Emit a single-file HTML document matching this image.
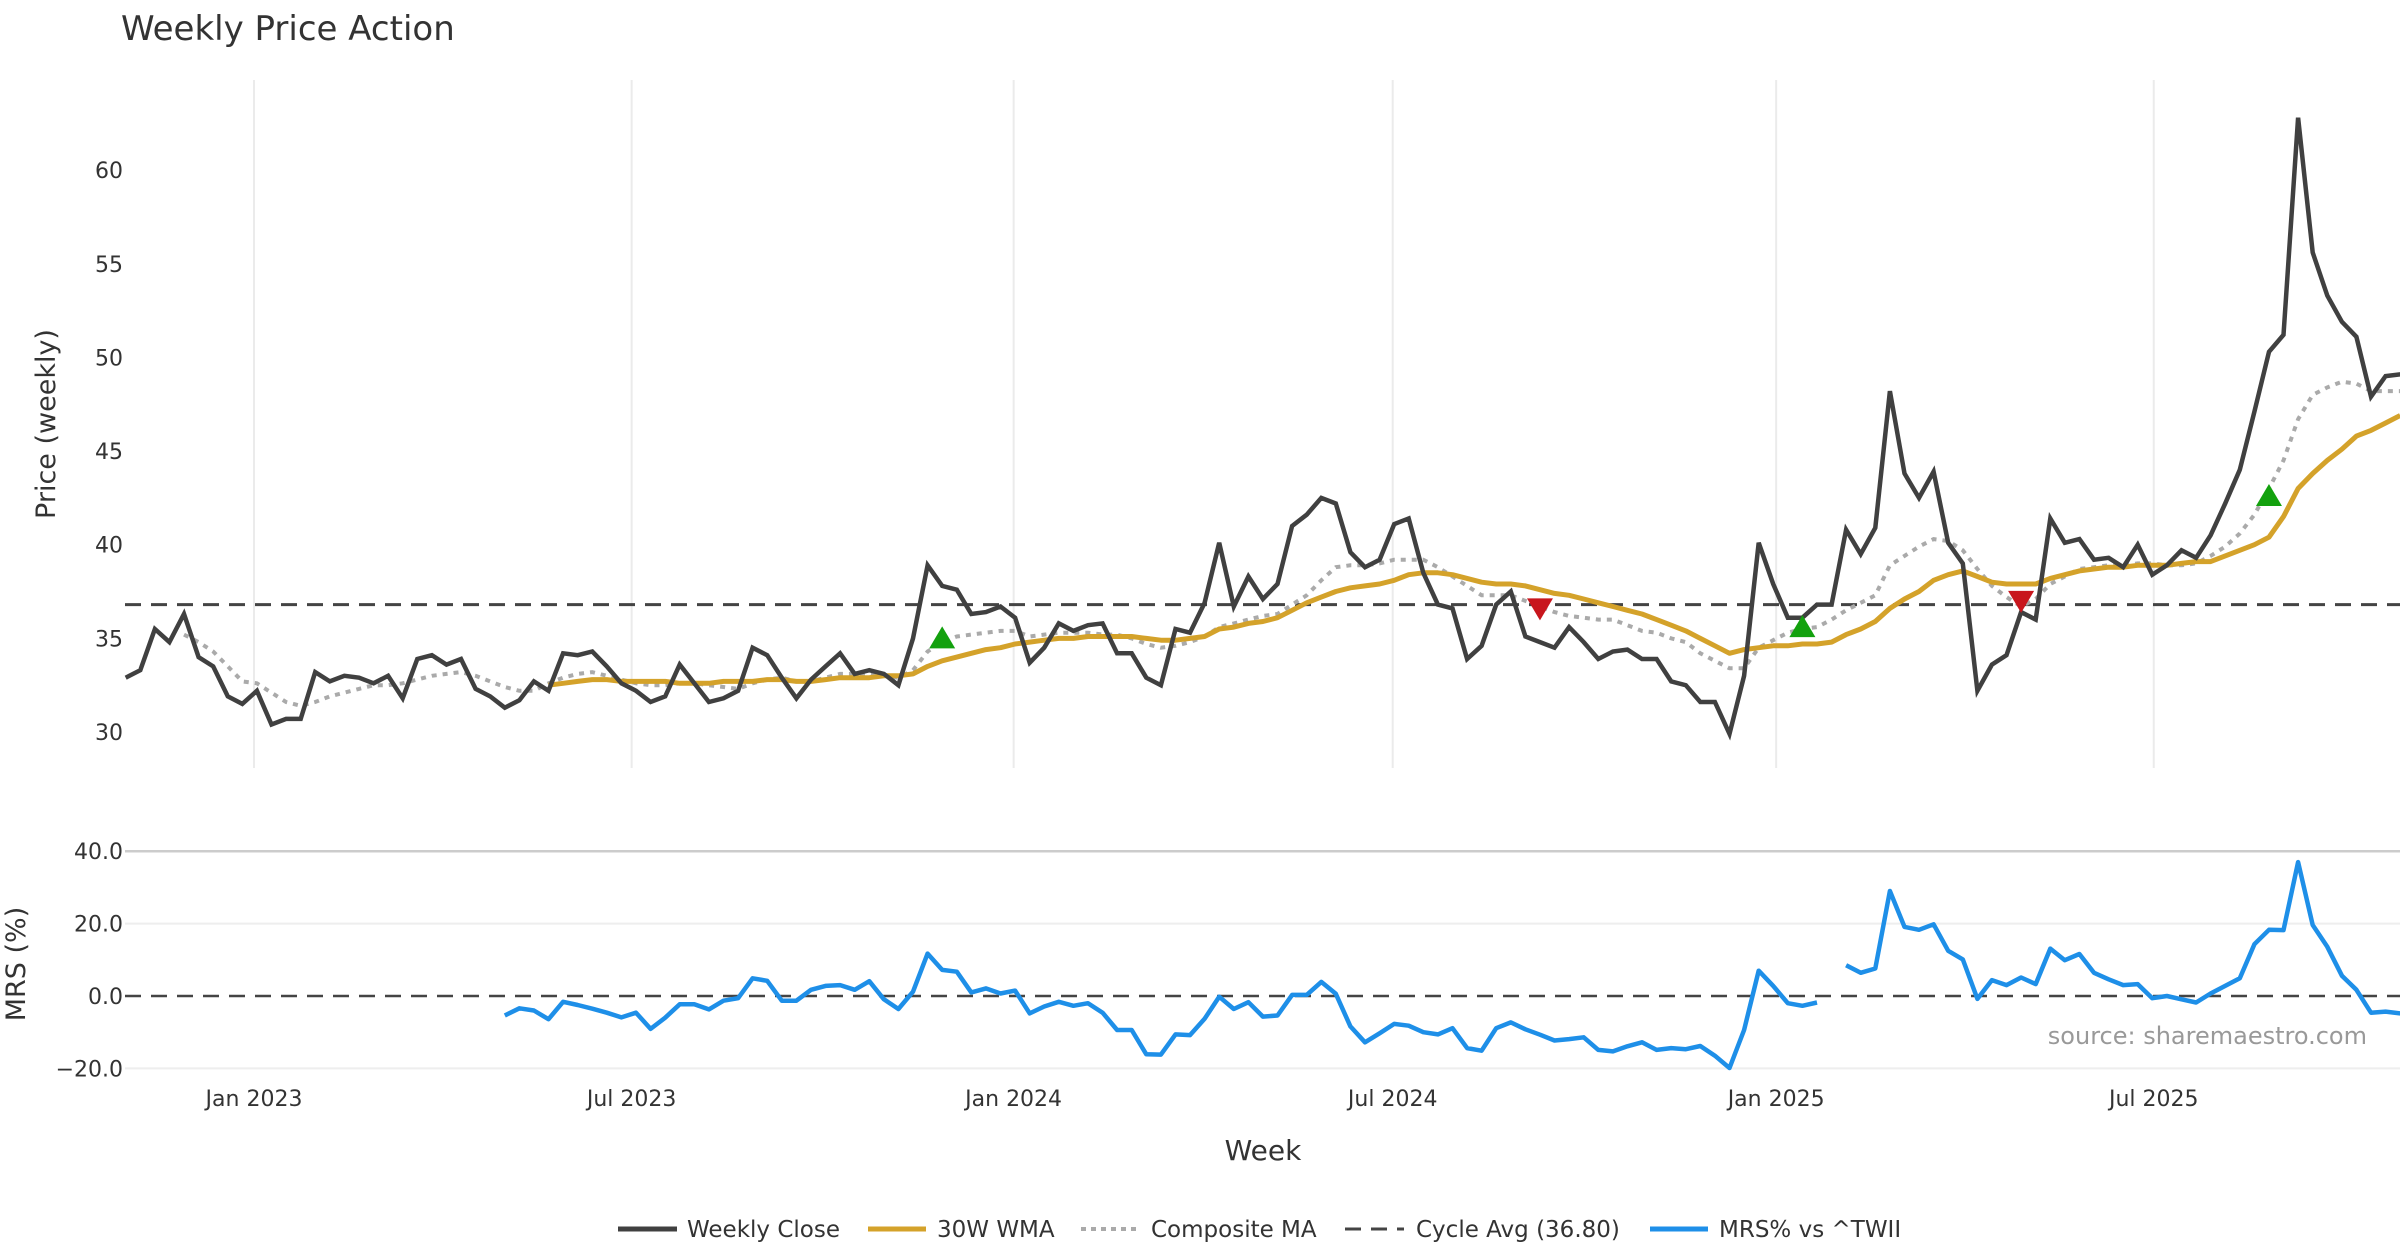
<!DOCTYPE html>
<html><head><meta charset="utf-8"><style>
html,body{margin:0;padding:0;background:#fff;}
svg{display:block;font-family:"DejaVu Sans","Liberation Sans",sans-serif;}
</style></head><body>
<svg id="chart" width="2400" height="1260" viewBox="0 0 2400 1260" xmlns="http://www.w3.org/2000/svg">
<rect width="2400" height="1260" fill="#fff"/>
<text x="121" y="40" font-size="34" fill="#333">Weekly Price Action</text>
<g id="grid"></g>
<g id="price"></g>
<g id="mrs"></g>
<g id="axes"></g>
<text transform="translate(55,424) rotate(-90)" text-anchor="middle" font-size="27" fill="#333">Price (weekly)</text>
<text transform="translate(25,964) rotate(-90)" text-anchor="middle" font-size="27" fill="#333">MRS (%)</text>
<text x="1263" y="1160" text-anchor="middle" font-size="28" fill="#333">Week</text>
<text x="2367" y="1044" text-anchor="end" font-size="24" fill="#999">source: sharemaestro.com</text>
<g font-size="23" fill="#333">
<g><line x1="618" y1="1229" x2="677" y2="1229" stroke="#404040" stroke-width="5"/><text x="687" y="1237">Weekly Close</text></g>
<g><line x1="868" y1="1229" x2="926" y2="1229" stroke="#D4A22A" stroke-width="5"/><text x="937" y="1237">30W WMA</text></g>
<g><line x1="1081" y1="1229" x2="1139" y2="1229" stroke="#aaa" stroke-width="4" stroke-dasharray="5,5"/><text x="1151" y="1237">Composite MA</text></g>
<g><line x1="1345" y1="1229" x2="1404" y2="1229" stroke="#444" stroke-width="3" stroke-dasharray="16,10"/><text x="1416" y="1237">Cycle Avg (36.80)</text></g>
<g><line x1="1650" y1="1229" x2="1708" y2="1229" stroke="#1E8FE8" stroke-width="5"/><text x="1719" y="1237">MRS% vs ^TWII</text></g>
</g>
</svg>
<script>
const closeVals=[32.9,33.3,35.5,34.8,36.3,34.0,33.5,31.9,31.5,32.2,30.4,30.7,30.7,33.2,32.7,33.0,32.9,32.6,33.0,31.8,33.9,34.1,33.6,33.9,32.3,31.9,31.3,31.7,32.7,32.2,34.2,34.1,34.3,33.5,32.6,32.2,31.6,31.9,33.6,32.6,31.6,31.8,32.2,34.5,34.1,32.9,31.8,32.8,33.5,34.2,33.1,33.3,33.1,32.5,
35.0,38.9,37.8,37.6,36.3,36.4,36.7,36.1,33.7,34.5,35.8,35.4,35.7,35.8,34.2,34.2,32.9,32.5,35.5,35.3,36.9,40.1,36.7,38.3,37.1,37.9,41.0,41.6,42.5,42.2,39.6,38.8,39.2,41.1,41.4,38.5,36.8,36.6,33.9,34.6,36.8,37.5,35.1,34.8,34.5,35.6,34.8,33.9,34.3,34.4,33.9,33.9,32.7,32.5,
31.6,31.6,29.9,33.0,40.1,37.9,36.1,36.1,36.8,36.8,40.8,39.5,40.9,48.2,43.8,42.5,43.9,40.1,39.0,32.2,33.6,34.1,36.4,36.0,41.4,40.1,40.3,39.2,39.3,38.8,40.0,38.4,38.9,39.7,39.3,40.5,42.2,44.0,47.1,50.3,51.2,62.8,55.6,53.3,51.9,51.1,47.9,49.0,49.1];
const wmaVals=[null,null,null,null,null,null,null,null,null,null,null,null,null,null,null,null,null,null,null,null,null,null,null,null,null,null,null,null,null,
32.5,32.6,32.7,32.8,32.8,32.7,32.7,32.7,32.7,32.6,32.6,32.6,32.7,32.7,32.7,32.8,32.8,32.7,32.7,32.8,32.9,32.9,32.9,33.0,33.0,33.1,33.5,33.8,34.0,34.2,34.4,34.5,34.7,34.8,34.9,35.0,35.0,35.1,35.1,35.1,35.1,35.0,34.9,34.9,35.0,35.1,35.5,35.6,35.8,35.9,36.1,36.5,36.9,37.2,37.5,37.7,37.8,37.9,38.1,38.4,38.5,38.5,38.4,38.2,38.0,37.9,37.9,37.8,37.6,37.4,37.3,37.1,36.9,36.7,36.5,36.3,36.0,35.7,35.4,35.0,34.6,34.2,34.4,34.5,34.6,34.6,34.7,34.7,34.8,35.2,35.5,35.9,36.6,37.1,37.5,38.1,38.4,38.6,38.3,38.0,37.9,37.9,37.9,38.2,38.4,38.6,38.7,38.8,38.8,38.9,38.9,38.9,39.0,39.1,39.1,39.4,39.7,40.0,40.4,41.5,43.0,43.8,44.5,45.1,45.8,46.1,46.5,46.9];
const compVals=[null,null,null,null,35.2,34.8,34.3,33.5,32.7,32.6,32.1,31.6,31.4,31.6,31.9,32.1,32.3,32.5,32.5,32.6,32.8,33.0,33.1,33.2,33.0,32.7,32.4,32.2,32.2,32.6,32.9,33.1,33.2,33.0,32.8,32.6,32.5,32.5,32.6,32.6,32.5,32.4,32.3,32.6,32.8,32.9,32.7,32.7,32.9,33.1,33.1,33.1,33.0,32.9,
33.3,34.3,34.8,35.1,35.2,35.3,35.4,35.4,35.1,35.2,35.3,35.3,35.3,35.2,35.2,35.0,34.7,34.5,34.6,34.8,35.1,35.6,35.8,36.0,36.2,36.3,36.8,37.3,38.1,38.8,38.9,38.9,39.0,39.2,39.2,39.2,38.8,38.3,37.8,37.3,37.3,37.3,37.0,36.7,36.4,36.2,36.1,36.0,36.0,35.7,35.4,35.3,35.0,34.8,
34.2,33.8,33.4,33.4,34.5,34.9,35.3,35.5,35.6,36.0,36.5,36.9,37.3,38.9,39.4,39.9,40.3,40.2,39.7,38.7,37.8,37.2,36.7,37.1,37.9,38.3,38.7,38.8,38.9,38.9,39.0,39.0,38.9,38.9,39.0,39.4,39.9,40.6,41.6,43.0,44.5,46.7,48.0,48.4,48.7,48.6,48.2,48.2,48.2];
const mrsVals=[null,null,null,null,null,null,null,null,null,null,null,null,null,null,null,null,null,null,null,null,null,null,null,null,null,null,
-5.4,-3.4,-4.0,-6.4,-1.6,-2.5,-3.5,-4.6,-5.9,-4.6,-9.1,-6.0,-2.3,-2.3,-3.7,-1.3,-0.6,4.9,4.2,-1.3,-1.3,1.7,2.8,3.0,1.7,4.1,-0.9,-3.6,1.2,11.7,7.2,6.7,1.0,2.1,0.7,1.5,-4.8,-2.9,-1.6,-2.7,-2.0,-4.6,-9.4,-9.4,-16.1,-16.2,-10.6,-10.8,-6.3,-0.2,-3.6,-1.7,-5.7,-5.4,0.3,0.3,3.9,0.6,-8.4,-12.8,-10.3,-7.7,-8.2,-10.0,-10.6,
-8.9,-14.4,-15.1,-8.9,-7.3,-9.2,-10.7,-12.3,-11.9,-11.4,-14.9,-15.3,-13.9,-12.8,-14.9,-14.4,-14.7,-13.8,-16.5,-19.9,-9.4,7.0,2.8,-2.0,-2.7,-1.8,null,8.5,6.4,7.6,29.0,19.1,18.3,19.8,12.5,10.1,-0.8,4.4,3.0,5.1,3.3,13.1,9.9,11.6,6.4,4.6,3.0,3.3,-0.6,0.0,-0.9,-1.8,0.7,2.8,4.9,14.3,18.3,18.2,37.0,19.6,13.6,5.6,1.7,-4.6,-4.3,-4.8];
const buyIdx=[56,115,147];
const buyVals=[35.0,35.6,42.6];
const sellIdx=[97,130];
const sellVals=[36.6,37.0];
const cycleAvg=36.8;
const priceTicks=[30,35,40,45,50,55,60];
const mrsTicks=[40,20,0,-20];
const mrsTickLabels=["40.0","20.0","0.0","\u221220.0"];
const dateTickIdx=[8.8,34.7,60.9,86.9,113.2,139.1];
const dateTickLabels=["Jan 2023","Jul 2023","Jan 2024","Jul 2024","Jan 2025","Jul 2025"];

const NS="http://www.w3.org/2000/svg";
const X0=125.7, XW=14.58, L=125, R=2400;
const xs=i=>X0+XW*i;
const yp=v=>732-(v-30)*18.73;
const ym=v=>996-3.62*v;
function mk(tag,attrs,parent){const e=document.createElementNS(NS,tag);for(const k in attrs)e.setAttribute(k,attrs[k]);parent.appendChild(e);return e;}
function pathFrom(vals,yf){let d="",pen=false;vals.forEach((v,i)=>{if(v===null){pen=false;return;}d+=(pen?"L":"M")+xs(i).toFixed(1)+","+yf(v).toFixed(1);pen=true;});return d;}
const grid=document.getElementById('grid'),price=document.getElementById('price'),mrs=document.getElementById('mrs'),axes=document.getElementById('axes');
dateTickIdx.forEach((t,k)=>{
  const g=mk('line',{x1:xs(t),x2:xs(t),y1:80,y2:768,stroke:'#ebebeb','stroke-width':2},grid);
  
  
  const tx=mk('text',{x:xs(t),y:1106,'text-anchor':'middle','font-size':22,fill:'#333'},axes);
  tx.textContent=dateTickLabels[k];
  
  
});
priceTicks.forEach(v=>{
  const tx=mk('text',{x:123,y:yp(v)+8,'text-anchor':'end','font-size':22,fill:'#333'},axes);
  tx.textContent=v;
  
  
});
mrsTicks.forEach((v,k)=>{
  if(v===40){const l=mk('line',{x1:L,x2:R,y1:ym(v),y2:ym(v),stroke:'#ccc','stroke-width':2.5},grid);}
  else if(v!==0){const l=mk('line',{x1:L,x2:R,y1:ym(v),y2:ym(v),stroke:'#eee','stroke-width':2},grid);}
  const tx=mk('text',{x:123,y:ym(v)+8,'text-anchor':'end','font-size':22,fill:'#333'},axes);
  tx.textContent=mrsTickLabels[k];
  
  
});
const cyc=mk('line',{x1:L,x2:R,y1:yp(cycleAvg),y2:yp(cycleAvg),stroke:'#444','stroke-width':3,'stroke-dasharray':'16,10'},price);


const comp=mk('path',{d:pathFrom(compVals,yp),fill:'none',stroke:'#aaa','stroke-width':4,'stroke-dasharray':'5,6'},price);


const wma=mk('path',{d:pathFrom(wmaVals,yp),fill:'none',stroke:'#D4A22A','stroke-width':5,'stroke-linejoin':'round'},price);


const cl=mk('path',{d:pathFrom(closeVals,yp),fill:'none',stroke:'#404040','stroke-width':4.5,'stroke-linejoin':'miter'},price);


buyIdx.forEach((i,k)=>{const x=xs(i),y=yp(buyVals[k]);
  const t=mk('polygon',{points:`${x-13},${y+10} ${x+13},${y+10} ${x},${y-12}`,fill:'#13A10E'},price);
  
  });
sellIdx.forEach((i,k)=>{const x=xs(i),y=yp(sellVals[k]);
  const t=mk('polygon',{points:`${x-13},${y-10} ${x+13},${y-10} ${x},${y+12}`,fill:'#C8161D'},price);
  
  });
const z=mk('line',{x1:L,x2:R,y1:ym(0),y2:ym(0),stroke:'#444','stroke-width':2.5,'stroke-dasharray':'16,10'},mrs);


const ml=mk('path',{d:pathFrom(mrsVals,ym),fill:'none',stroke:'#1E8FE8','stroke-width':4.5,'stroke-linejoin':'round'},mrs);


</script>
</body></html>
